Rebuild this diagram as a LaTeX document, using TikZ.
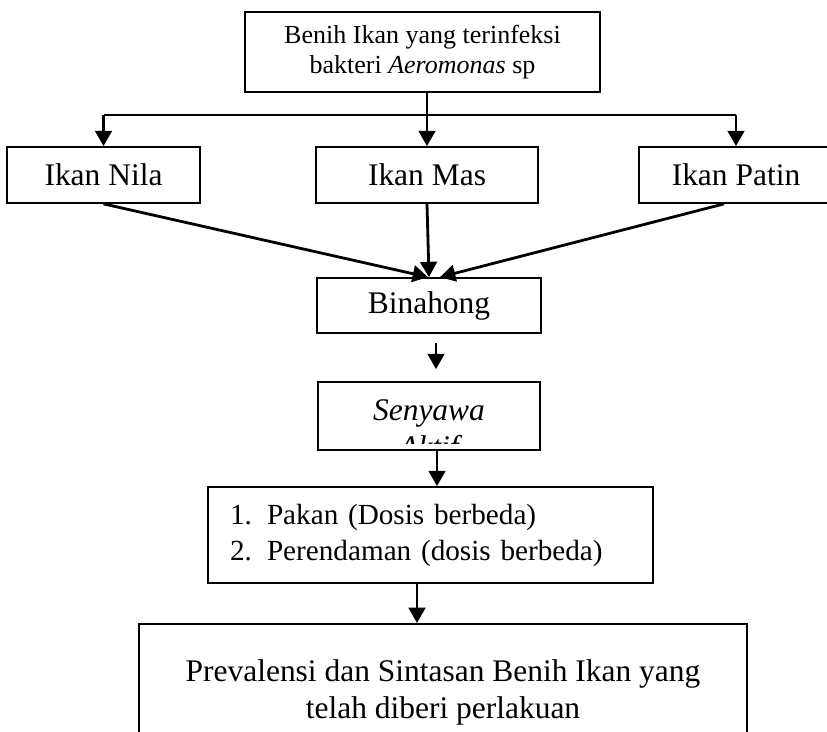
\documentclass[tikz,border=0pt]{standalone}
\usepackage{fontspec}
\setmainfont{Liberation Serif}
\usetikzlibrary{arrows.meta,calc}

\begin{document}
\begin{tikzpicture}[>={Triangle[length=11.5pt,width=12.5pt]}, x=0.75pt, y=-0.75pt,
  box/.style={draw, line width=1.3pt, inner sep=0pt, align=center,
    font=\fontsize{23.6}{27.75}\selectfont},
  link/.style={->, line width=2.1pt}]
\useasboundingbox (0,0) rectangle (827,731);
% boxes
\node[box, minimum width=266.25pt, minimum height=60pt,
  font=\fontsize{19.5}{22.5}\selectfont] (benih) at (422.5,52)
  {Benih Ikan yang terinfeksi\\bakteri \textit{Aeromonas} sp};
\node[box, minimum width=144.75pt, minimum height=42pt] (nila) at (103.5,175) {Ikan Nila};
\node[box, minimum width=166.5pt, minimum height=42pt] (mas) at (427,175) {Ikan Mas};
\node[box, minimum width=145.5pt, minimum height=42pt] (patin) at (736,175) {Ikan Patin};
\node[box, minimum width=168pt, minimum height=41.25pt] (binahong) at (429,305.5) {Binahong};
\node[box, minimum width=166.5pt, minimum height=51pt] (senyawa) at (429,416) {};
\begin{scope}
  \clip (senyawa.north west) rectangle ($(senyawa.south east)+(0,-7)$);
  \node[inner sep=0pt, anchor=north, align=center,
    font=\fontsize{23.6}{27.75}\selectfont\itshape] (senyawatext)
    at ($(senyawa.north)+(0,18.5)$) {Senyawa\\Aktif};
\end{scope}
\node[box, align=left, text width=300.75pt, inner xsep=16.5pt, minimum height=72pt,
  font=\fontsize{21.9}{27}\selectfont] (pakan) at (430.5,535)
  {\makebox[27.75pt][l]{1.}Pakan (Dosis berbeda)\\
   \makebox[27.75pt][l]{2.}Perendaman (dosis berbeda)};
\node[box, anchor=north, minimum width=456pt, inner ysep=27pt] (hasil) at (443,623)
  {Prevalensi dan Sintasan Benih Ikan yang\\telah diberi perlakuan};
% connectors
\coordinate (branch) at (427,115);
\draw[line width=2.1pt] (nila.north |- branch) -- (patin.north |- branch);
\draw[link] (benih.south -| mas.north) -- (mas.north);
\draw[link] (nila.north |- branch) -- (nila.north);
\draw[link] (patin.north |- branch) -- (patin.north);
\draw[link] (nila.south) -- ($(binahong.north)+(-1,0)$);
\draw[link] (mas.south) -- (binahong.north);
\draw[link] ($(patin.south)+(-12,0)$) -- ($(binahong.north)+(11,0)$);
\coordinate (gapa) at ($(binahong.south)+(7,9)$);
\coordinate (gapb) at ($(senyawa.north)+(7,-12)$);
\draw[link] (gapa) -- (gapb);
\coordinate (s1) at ($(senyawa.south)+(8,0)$);
\draw[link] (s1) -- (s1 |- pakan.north);
\coordinate (p1) at ($(pakan.south)+(-13.5,0)$);
\draw[link] (p1) -- (p1 |- hasil.north);
\end{tikzpicture}
\end{document}
